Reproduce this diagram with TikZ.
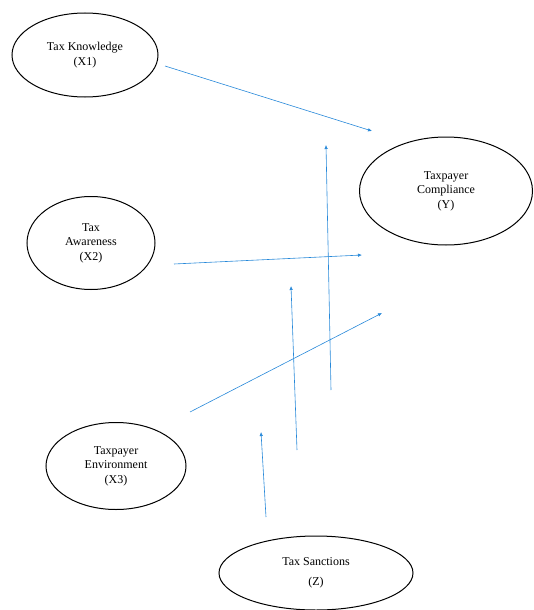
\documentclass[tikz,border=0pt]{standalone}
\usepackage{fontspec}
\setmainfont{Liberation Serif}
\usepackage{tikz}
\usetikzlibrary{shapes.geometric,arrows.meta}

\begin{document}
\begin{tikzpicture}[x=1pt,y=-1pt,
  var/.style={ellipse, draw, line width=1pt, inner sep=0pt, align=center,
    font=\fontsize{12}{14.5}\selectfont},
  path/.style={draw=blue!45!cyan!70!gray, line width=0.6pt,
    -{Latex[length=4pt,width=3.5pt]}}]

\useasboundingbox (0,0) rectangle (533,610);

% variables
\node [var, minimum width=146pt, minimum height=84pt] (x1) at (85,55) {Tax Knowledge\\(X1)};
\node [var, minimum width=173pt, minimum height=108pt] (y) at (446,191) {Taxpayer\\Compliance\\(Y)};
\node [var, minimum width=128pt, minimum height=93pt] (x2) at (91,243) {Tax\\Awareness\\(X2)};
\node [var, minimum width=140pt, minimum height=87pt] (x3) at (116,466) {Taxpayer\\Environment\\(X3)};
\node [var, minimum width=194pt, minimum height=74pt] (z) at (316,573) {Tax Sanctions\\[5pt](Z)};

% free ends of the arrows
\coordinate (a1) at (165,66);  \coordinate (b1) at (372,131);
\coordinate (a2) at (174,264); \coordinate (b2) at (362,255);
\coordinate (a3) at (190,412); \coordinate (b3) at (382,313);
\coordinate (a4) at (331,390); \coordinate (b4) at (326,145);
\coordinate (a5) at (297,450); \coordinate (b5) at (291,286);
\coordinate (a6) at (266,517); \coordinate (b6) at (261,432);

\draw [path] (a1) -- (b1);
\draw [path] (a2) -- (b2);
\draw [path] (a3) -- (b3);
\draw [path] (a4) -- (b4);
\draw [path] (a5) -- (b5);
\draw [path] (a6) -- (b6);

\end{tikzpicture}
\end{document}
